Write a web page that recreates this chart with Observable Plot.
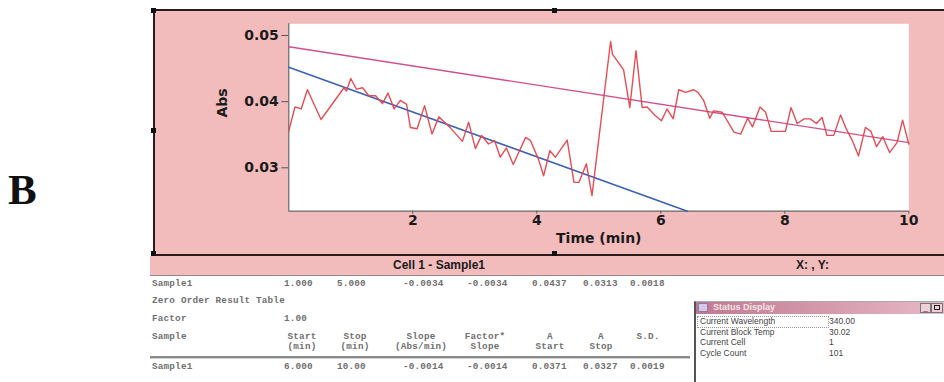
<!DOCTYPE html>
<html><head><meta charset="utf-8">
<script src="https://cdn.jsdelivr.net/npm/d3@7"></script>
<script src="https://cdn.jsdelivr.net/npm/@observablehq/plot@0.6"></script>
<style>
html,body{margin:0;padding:0;background:#fff;}
#root{position:relative;width:944px;height:382px;overflow:hidden;font-family:"Liberation Sans",Arial,sans-serif;}
.a{position:absolute;}
#panel{position:absolute;left:154px;top:10px;width:790px;height:245px;background:#f3bcbc;}
.mono{position:absolute;font-family:"Liberation Mono","DejaVu Sans Mono",monospace;font-size:9.3px;color:#707070;font-weight:bold;white-space:pre;letter-spacing:0.2px;}
.st{position:absolute;font-family:"Liberation Sans",Arial,sans-serif;font-size:8.5px;color:#444;white-space:pre;}
</style></head>
<body><div id="root"></div>
<script>
// ---- chart data ----
const time = [0.00,0.10,0.20,0.30,0.52,0.89,0.93,1.00,1.09,1.19,1.29,1.40,1.51,1.60,1.70,1.80,1.90,1.96,2.07,2.19,2.31,2.42,2.61,2.80,2.90,3.01,3.11,3.22,3.32,3.41,3.51,3.62,3.82,3.90,4.03,4.11,4.21,4.30,4.49,4.60,4.68,4.80,4.89,5.19,5.22,5.40,5.50,5.60,5.70,5.78,5.91,6.01,6.10,6.20,6.29,6.40,6.53,6.60,6.69,6.79,6.85,6.99,7.18,7.29,7.40,7.48,7.60,7.69,7.78,8.01,8.10,8.20,8.31,8.41,8.51,8.60,8.68,8.79,8.90,8.99,9.09,9.19,9.30,9.39,9.48,9.58,9.69,9.81,9.90,10.00];
const absorbance = [0.0356,0.0392,0.0389,0.0418,0.0373,0.0421,0.0416,0.0435,0.0419,0.0421,0.0409,0.0409,0.0397,0.0413,0.0389,0.0402,0.0396,0.0361,0.0359,0.0394,0.0351,0.0377,0.0360,0.0340,0.0369,0.0329,0.0349,0.0336,0.0341,0.0316,0.0330,0.0305,0.0346,0.0341,0.0312,0.0288,0.0326,0.0316,0.0342,0.0278,0.0278,0.0306,0.0258,0.0491,0.0472,0.0448,0.0391,0.0477,0.0391,0.0392,0.0379,0.0371,0.0389,0.0374,0.0418,0.0414,0.0418,0.0414,0.0402,0.0375,0.0386,0.0384,0.0354,0.0351,0.0375,0.0362,0.0392,0.0384,0.0355,0.0355,0.0391,0.0367,0.0374,0.0374,0.0367,0.0376,0.0349,0.0349,0.0380,0.0359,0.0341,0.0318,0.0361,0.0355,0.0332,0.0347,0.0323,0.0338,0.0372,0.0336];
// fitted lines (endpoints)
const fitATime = [0, 6.43];
const fitAAbs = [0.0452, 0.02344];
const fitBTime = [0, 10];
const fitBAbs = [0.0483, 0.0338];
const xTicks = [2, 4, 6, 8, 10];
const yTicks = [0.03, 0.04, 0.05];
const xDomain = [0, 10];
const yDomain = [0.02344, 0.05177];

// ---- table / status text ----
const row1 = ["Sample1","1.000","5.000","-0.0034","-0.0034","0.0437","0.0313","0.0018"];
const headerTop = ["Sample","Start","Stop","Slope","Factor*","A","A","S.D."];
const headerBottom = ["","(min)","(min)","(Abs/min)","Slope","Start","Stop",""];
const resultRow = ["Sample1","6.000","10.00","-0.0014","-0.0014","0.0371","0.0327","0.0019"];
const statusLabels = ["Current Wavelength","Current Block Temp","Current Cell","Cycle Count"];
const statusValues = ["340.00","30.02","1","101"];

const root = document.getElementById("root");
function div(cls, css, text){const d=document.createElement("div");if(cls)d.className=cls;d.style.cssText=css;if(text!=null)d.textContent=text;root.appendChild(d);return d;}

// Letter B
div("a","left:8px;top:168px;font-family:'Liberation Serif','Times New Roman',serif;font-weight:bold;font-size:43px;color:#111;line-height:1;","B");

// panel
const panel = div("", "");
panel.id = "panel";

const series = time.map((t,i)=>({t, v: absorbance[i]}));
const fitA = fitATime.map((t,i)=>({t, v: fitAAbs[i]}));
const fitB = fitBTime.map((t,i)=>({t, v: fitBAbs[i]}));

const chart = Plot.plot({
  width: 790, height: 245,
  marginLeft: 134.3, marginRight: 35.7, marginTop: 13.3, marginBottom: 44.3,
  x: {domain: xDomain},
  y: {domain: yDomain},
  style: {background: "transparent", fontFamily: "'DejaVu Sans', Verdana, sans-serif", fontWeight: "bold", fontSize: "14px", color: "#1a1a1a", overflow: "visible"},
  marks: [
    Plot.frame({fill: "white", stroke: null}),
    Plot.axisY({ticks: yTicks, tickFormat: d => d.toFixed(2), tickSize: 7, tickPadding: 3, label: null, fontSize: 14, stroke: "#555"}),
    Plot.axisX({ticks: xTicks, tickFormat: d => String(d), tickSize: 3, tickPadding: 1, label: null, fontSize: 14, stroke: "#555"}),
    Plot.ruleX([xDomain[0]], {stroke: "#666", strokeWidth: 1.2}),
    Plot.ruleY([yDomain[0]], {stroke: "#666", strokeWidth: 1.2}),
    Plot.line(fitB, {x: "t", y: "v", stroke: "#d2508c", strokeWidth: 1.3}),
    Plot.line(fitA, {x: "t", y: "v", stroke: "#3b62b4", strokeWidth: 1.6}),
    Plot.line(series, {x: "t", y: "v", stroke: "#e6424c", strokeWidth: 1.4, strokeOpacity: 0.95}),
    Plot.text(["Abs"], {frameAnchor: "left", dx: -66, rotate: -90, fontSize: 14, fontWeight: "bold"}),
    Plot.text(["Time (min)"], {frameAnchor: "bottom", dy: 32, fontSize: 14, fontWeight: "bold"})
  ]
});
panel.appendChild(chart);

// panel borders
div("a","left:154px;top:9px;width:790px;height:2px;background:#2a1a1a;");
div("a","left:153px;top:9px;width:2px;height:247px;background:#2a1a1a;");
div("a","left:153px;top:254px;width:791px;height:2px;background:#2a1a1a;");
// handles
[[151,8],[552,8],[151,128],[151,251],[552,251]].forEach(([x,y])=>div("a",`left:${x}px;top:${y}px;width:5px;height:5px;background:#111;`));

// header band
div("a","left:150px;top:256px;width:794px;height:19px;background:#f3bcbc;border-bottom:1px solid #9a8585;");
div("a","left:393px;top:258px;font-weight:bold;font-size:12px;color:#1a1a1a;","Cell 1 - Sample1");
div("a","left:796px;top:258px;font-weight:bold;font-size:12px;color:#1a1a1a;","X: , Y:");

// table
const colLeft = [152, 284, 337, 403, 467, 532, 583, 630];
row1.forEach((s,i)=>div("mono",`left:${colLeft[i]}px;top:278px;`, s));
div("mono","left:152px;top:295px;","Zero Order Result Table");
div("mono","left:152px;top:313px;","Factor");
div("mono","left:284px;top:313px;","1.00");
headerTop.forEach((s,i)=>{
  if(i===0){div("mono",`left:152px;top:331px;`, s);return;}
  div("mono",`left:${colLeft[i]+18-30}px;top:331px;width:60px;text-align:center;`, s);
});
headerBottom.forEach((s,i)=>{
  if(!s) return;
  div("mono",`left:${colLeft[i]+18-30}px;top:341px;width:60px;text-align:center;`, s);
});
div("a","left:150px;top:356px;width:540px;height:2px;background:#8a8a8a;");
div("a","left:150px;top:358px;width:540px;height:1px;background:#cfcfcf;");
resultRow.forEach((s,i)=>div("mono",`left:${colLeft[i]}px;top:361px;`, s));

// status window
div("a","left:694px;top:301px;width:250px;height:81px;background:#fff;border-left:2px solid #555;border-top:1px solid #aaa;");
div("a","left:696px;top:302px;width:248px;height:12px;background:linear-gradient(to right,#c07890,#e7b9c6);");
div("a","left:698px;top:303px;width:10px;height:9px;background:#d8c8e8;border:1px solid #8a7aa8;box-sizing:border-box;");
div("a","left:713px;top:302px;font-size:9px;font-weight:bold;color:#f6e6ea;","Status Display");
div("a","left:920px;top:303px;width:11px;height:10px;background:#f0d0d8;border:1px solid #777;box-sizing:border-box;font-size:8px;line-height:8px;text-align:center;color:#222;","_");
div("a","left:931px;top:303px;width:12px;height:10px;background:#f0d0d8;border:1px solid #777;box-sizing:border-box;");
div("a","left:934px;top:305px;width:6px;height:5px;border:1px solid #222;box-sizing:border-box;");
div("a","left:697px;top:316px;width:130px;height:10px;border:1px dotted #999;");
statusLabels.forEach((s,i)=>div("st",`left:700px;top:${316+i*10.5}px;`, s));
statusValues.forEach((s,i)=>div("st",`left:829px;top:${316+i*10.5}px;`, s));
</script>
</body></html>
